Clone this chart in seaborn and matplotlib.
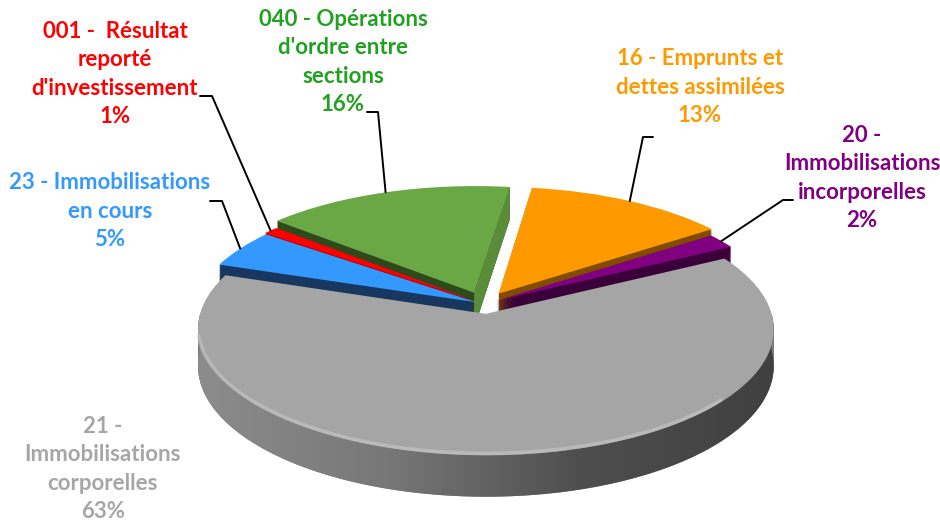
import numpy as np
import matplotlib
matplotlib.use('Agg')
import matplotlib.pyplot as plt
from matplotlib.transforms import Transform
from matplotlib.patches import Polygon
from matplotlib.colors import LinearSegmentedColormap
import seaborn as sns

# data, clockwise order of the slices starting at 001
categories = ["001 -  Résultat\nreporté\nd'investissement",
              "040 - Opérations\nd'ordre entre\nsections",
              "16 - Emprunts et\ndettes assimilées",
              "20 -\nImmobilisations\nincorporelles",
              "21 -\nImmobilisations\ncorporelles",
              "23 - Immobilisations\nen cours"]
shares = [1, 16, 13, 2, 63, 5]

top_colors = ['#FF0000', '#6AA845', '#FF9900', '#800080', '#A5A5A5', '#3399FF']
side_colors = ['#A00000', '#2E4A1C', '#7F4C00', '#3A003A', '#7E7E7E', '#17375E']
text_colors = ['#FF0000', '#22A022', '#FF9900', '#800080', '#A6A6A6', '#3399FF']
explode = [0.04, 0.10, 0.10, 0.05, 0.08, 0.03]

# label centres and leader lines (text end x, elbow x, y)
label_pos = [(115, 74), (343, 62), (700, 87), (862, 178), (103, 469), (110, 211)]
leaders = [(200, 212, 96), (367, 378, 112), (653, 643, 137), (793, 783, 200), None, (210, 222, 201)]

sns.set_style('white')
plt.rcParams['font.family'] = ['Lato', 'DejaVu Sans']

fig = plt.figure(figsize=(9.4, 5.22), dpi=100)
ax = fig.add_axes([0, 0, 1, 1])

cx, cy, rx, ry, depth, persp = 484, 304, 283, 122, 36, 0.12
start = 143.2


class Disk(Transform):
    """unit pie coords -> pixel coords, tilted with a little perspective"""
    input_dims = output_dims = 2

    def __init__(self, drop=0):
        super().__init__()
        self.drop = drop

    def transform_non_affine(self, values):
        v = np.asarray(values, dtype=float)
        u, w = v[:, 0], v[:, 1]
        s = 1 / (1 + persp * w)
        return np.column_stack([cx + rx * u * s, cy + (-ry * w + self.drop) * s])


# side walls: stack of darker pies
for drop in range(depth, 0, -1):
    side, _ = ax.pie(shares, explode=explode, colors=side_colors, startangle=start,
                     counterclock=False, wedgeprops=dict(linewidth=0))
    for w in side:
        w.set_transform(Disk(drop) + ax.transData)
        w.set_zorder(1)

# top face
wedges, _ = ax.pie(shares, explode=explode, colors=top_colors, startangle=start,
                   counterclock=False, wedgeprops=dict(linewidth=0))
for w in wedges:
    w.set_transform(Disk(0) + ax.transData)
    w.set_zorder(2)

# lit inner wall of the green slice, seen through the gap
gw = wedges[1]
c = np.array(gw.center)
edge = c + gw.r * np.array([np.cos(np.radians(gw.theta1)), np.sin(np.radians(gw.theta1))])
wall = np.vstack([Disk(0).transform(np.array([c, edge])),
                  Disk(depth).transform(np.array([edge, c]))])
ax.add_patch(Polygon(wall, closed=True, facecolor='#5A8C3A', edgecolor='none', zorder=1.6))

# shaded front wall of the big grey slice
g = wedges[4]
t = np.radians(np.linspace(180, 360, 200))
rim = np.column_stack([g.center[0] + g.r * np.cos(t), g.center[1] + g.r * np.sin(t)])
top_rim = Disk(0).transform(rim)
low_rim = Disk(depth).transform(rim)
clip = Polygon(np.vstack([top_rim, low_rim[::-1]]), closed=True, facecolor='none', edgecolor='none')
ax.add_patch(clip)
cmap = LinearSegmentedColormap.from_list('side', ['#8C8C8C', '#777777', '#4E4E4E', '#404040'])
im = ax.imshow(np.linspace(0, 1, 256)[None, :], cmap=cmap, aspect='auto', zorder=1.5,
               extent=(low_rim[:, 0].min(), low_rim[:, 0].max(), low_rim[:, 1].max(), top_rim[:, 1].min()))
im.set_clip_path(clip)
# soft bevel on the front rim
sel = (t > np.radians(190)) & (t < np.radians(320))
ax.plot(top_rim[sel, 0], top_rim[sel, 1] - 2, color='#C8C8C8', lw=2.5, alpha=0.6,
        solid_capstyle='round', zorder=2.5)

# labels
total = sum(shares)
for i, w in enumerate(wedges):
    pct = f'{shares[i] / total * 100:.0f}%'
    tx, ty = label_pos[i]
    ax.text(tx, ty, categories[i] + '\n' + pct, ha='center', va='center',
            color=text_colors[i], fontsize=16, fontweight='bold', linespacing=1.45, zorder=4)
    if leaders[i] is not None:
        x0, x1, yl = leaders[i]
        mid = np.radians((w.theta1 + w.theta2) / 2)
        p = np.array([[w.center[0] + w.r * np.cos(mid), w.center[1] + w.r * np.sin(mid)]])
        px, py = Disk(0).transform(p)[0]
        ax.plot([x0, x1, px], [yl, yl, py], color='black', lw=1.4, zorder=3)

ax.set_aspect('auto')
ax.set_xlim(0, 940)
ax.set_ylim(522, 0)
ax.axis('off')

fig.savefig('out.png', dpi=100, facecolor='white')
